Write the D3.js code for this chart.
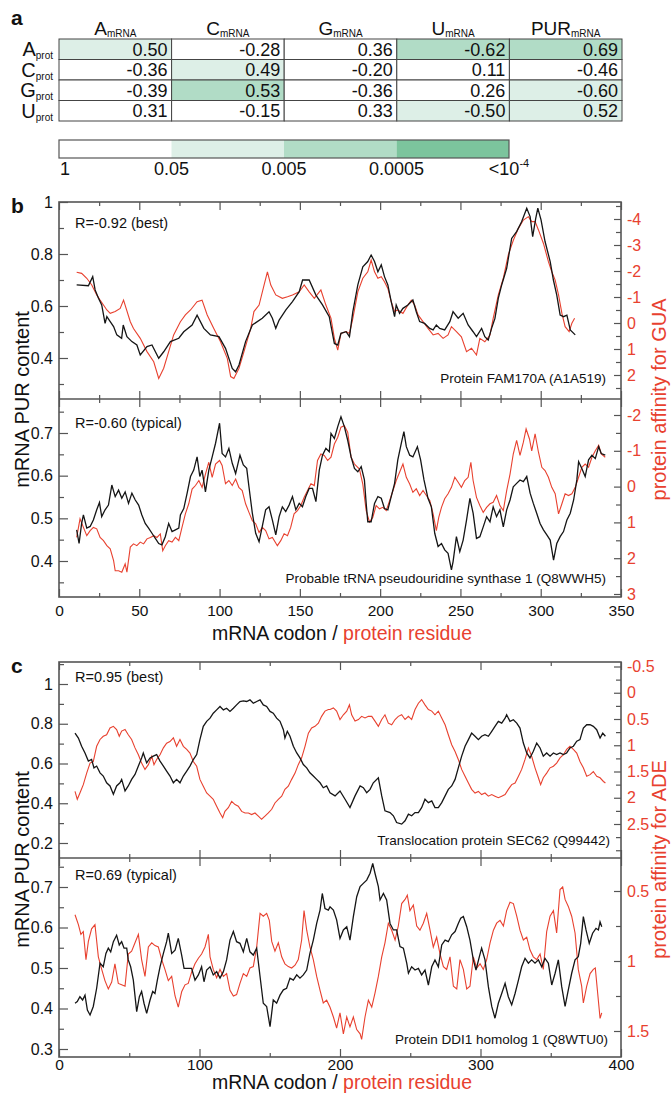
<!DOCTYPE html>
<meta charset="utf-8">
<script src="https://d3js.org/d3.v7.min.js"></script>
<style>
  body { margin:0; background:#fff; }
  svg text { font-family: "Liberation Sans", Arial, sans-serif; fill:#111; }
  .tick line { stroke:#555; stroke-width:1.2px; }
  .lax text, .bax text { font-size:16px; }
  .bax text { font-size:15.5px; }
  .rax text { fill:#e8412f; font-size:16px; }
  .frame { fill:none; stroke:#555; stroke-width:1.6px; }
  .pur { fill:none; stroke:#151515; stroke-width:1.3px; }
  .aff { fill:none; stroke:#e8412f; stroke-width:1.1px; }
</style>
<body></body>
<script>

// ---- panel a data
var colNames = ["A", "C", "G", "U", "PUR"];
var rowNames = ["A", "C", "G", "U"];
var corrValues = [
  [0.50, -0.28, 0.36, -0.62, 0.69],
  [-0.36, 0.49, -0.20, 0.11, -0.46],
  [-0.39, 0.53, -0.36, 0.26, -0.60],
  [0.31, -0.15, 0.33, -0.50, 0.52]
];
var sigLevel = [
  [1, 0, 0, 2, 2],
  [0, 1, 0, 0, 0],
  [0, 2, 0, 0, 1],
  [0, 0, 0, 1, 1]
];
var sigLabels = ["1", "0.05", "0.005", "0.0005", "<10"];
var sigColors = ["#ffffff", "#ddefe7", "#b1dcc6", "#7cc49d"];

// ---- panel b (GUA) : [codon, value]
var bTopPur = [[11,0.681],[18.3,0.678],[21,0.713],[22.5,0.662],[24.6,0.630],[26.6,0.604],[28.7,0.533],[29.8,0.559],[31.9,0.540],[34,0.521],[36,0.489],[39,0.476],[40,0.527],[42.3,0.482],[45.4,0.463],[48.5,0.450],[50.6,0.412],[54.8,0.444],[57.9,0.450],[62.1,0.399],[65.2,0.424],[69.4,0.463],[74.6,0.476],[77.7,0.501],[82.9,0.527],[86,0.565],[90.2,0.514],[94.3,0.489],[99.6,0.482],[103.7,0.437],[107.9,0.360],[110,0.347],[112.1,0.373],[116.2,0.463],[120.4,0.527],[126.6,0.553],[130.8,0.578],[132.9,0.553],[135,0.514],[137.1,0.546],[141.3,0.585],[145.4,0.617],[149.6,0.655],[151.7,0.700],[155.8,0.700],[160,0.642],[164.1,0.604],[168.3,0.559],[171.5,0.456],[173.6,0.450],[175.6,0.495],[178.8,0.501],[180.9,0.482],[183,0.578],[186.1,0.681],[189.2,0.751],[192.3,0.771],[194.4,0.796],[196.5,0.771],[198.6,0.732],[200.7,0.758],[202.7,0.713],[204.8,0.681],[206.9,0.617],[209,0.559],[210,0.604],[212.1,0.572],[214.2,0.591],[217.3,0.604],[220.4,0.623],[222.5,0.578],[224.6,0.540],[227.7,0.533],[230.9,0.514],[233,0.508],[235,0.527],[237.1,0.514],[240.2,0.508],[243.4,0.540],[245.4,0.578],[248.6,0.553],[251.7,0.572],[254.8,0.527],[257.9,0.501],[260,0.482],[263.2,0.514],[265.2,0.482],[267.3,0.469],[269.4,0.514],[271.5,0.553],[273.6,0.630],[275.7,0.681],[278.8,0.745],[281.9,0.860],[285,0.886],[288.1,0.924],[291.3,0.976],[293.4,0.944],[295,0.867],[296.9,0.937],[298.2,0.976],[300.2,0.931],[302.7,0.848],[305.9,0.771],[307.9,0.700],[310,0.642],[312.1,0.565],[314.2,0.559],[316.3,0.565],[318.4,0.508],[321.5,0.489]];
var bTopAff = [[11,-1.95],[14.1,-1.91],[17.3,-1.72],[20.4,-1.46],[23.5,-1.08],[25.6,-0.88],[27.7,-0.69],[29.8,-0.50],[31.9,-0.37],[35,-0.44],[38.1,-0.56],[40.2,-0.88],[44.4,-0.05],[46.4,0.21],[50.6,0.59],[54.8,1.10],[59,1.49],[62.1,2.13],[65.2,1.74],[68.3,1.10],[71.4,0.46],[75.6,-0.05],[78.7,-0.31],[81.9,-0.50],[86,-0.82],[89.1,-0.88],[92.3,-0.31],[96.4,0.21],[100.6,0.72],[104.8,1.36],[106.9,2.06],[108.9,2.13],[112.1,1.74],[115.2,1.10],[119.4,0.21],[121.4,-0.44],[124.6,-0.69],[127.7,-1.46],[129.8,-1.97],[131.9,-1.46],[135,-1.08],[139.1,-0.95],[142.3,-1.01],[145.4,-1.08],[149.6,-1.20],[152.7,-1.46],[155.8,-1.20],[159,-0.95],[163.1,-1.27],[166.2,-0.69],[169.4,-0.18],[171.5,0.59],[173.6,1.04],[175.6,0.40],[178.8,0.33],[180.9,0.40],[183,-0.18],[186.1,-1.20],[189.2,-1.72],[192.3,-1.97],[194.4,-2.42],[196.5,-1.97],[198.6,-1.72],[200.7,-1.78],[202.7,-1.59],[204.8,-1.33],[206.9,-0.82],[209,-0.44],[211,-0.50],[214.2,-0.37],[217.3,-0.69],[219.4,-0.88],[221.5,-0.69],[223.6,-0.31],[226.7,-0.05],[229.8,0.21],[233,0.46],[236.1,0.40],[239.2,0.59],[242.3,0.46],[244.4,0.14],[247.5,0.33],[250.6,0.53],[253.8,1.10],[256.9,0.97],[260,1.23],[262.1,0.59],[265.2,0.72],[268.4,0.46],[270.4,-0.18],[273.6,-1.08],[276.7,-1.72],[279.8,-2.62],[283,-3.19],[286.1,-3.64],[289.2,-3.96],[292.3,-4.09],[294.4,-3.90],[296.5,-3.90],[298.6,-3.58],[301.7,-3.06],[304.8,-2.36],[306.9,-1.97],[309,-1.65],[311.1,-1.08],[313.2,-0.37],[315.2,0.14],[317.7,0.33],[319.4,0.01],[321.1,-0.18]];
var bBotPur = [[11,0.473],[12.5,0.441],[14.1,0.488],[15.2,0.508],[17.3,0.477],[19.4,0.481],[21.4,0.496],[23.5,0.520],[25.2,0.537],[26.6,0.504],[28.7,0.520],[30.8,0.531],[32.9,0.578],[35,0.551],[37.1,0.566],[39.1,0.547],[41.2,0.562],[43.3,0.535],[45.4,0.559],[47.5,0.543],[49.6,0.531],[51.6,0.508],[53.7,0.488],[55.8,0.477],[57.9,0.465],[60,0.453],[62.1,0.441],[64.1,0.438],[66.2,0.457],[68.3,0.488],[70.4,0.469],[72.5,0.473],[74.6,0.477],[75.6,0.508],[77.7,0.523],[79.8,0.559],[81.9,0.598],[83.9,0.613],[86,0.644],[87.7,0.598],[89.1,0.613],[91.2,0.562],[93.3,0.613],[95.4,0.644],[97.5,0.676],[100,0.723],[101.6,0.652],[103.7,0.644],[105.8,0.664],[107.9,0.629],[110,0.605],[112.7,0.648],[114.8,0.625],[116.9,0.617],[118.3,0.574],[120.4,0.512],[122.5,0.465],[124.6,0.445],[126.6,0.481],[128.7,0.520],[130.8,0.527],[132.9,0.496],[135,0.461],[137.1,0.504],[139.1,0.527],[141.2,0.516],[143.3,0.531],[145.4,0.551],[147.5,0.520],[149.6,0.535],[151.6,0.527],[153.7,0.551],[155.8,0.570],[157.9,0.570],[160,0.539],[162.1,0.613],[164.1,0.648],[166.2,0.664],[168.3,0.656],[169.4,0.699],[171.5,0.687],[173.6,0.715],[175.6,0.738],[177.7,0.715],[179.8,0.683],[181.9,0.644],[184,0.617],[186.1,0.609],[188.2,0.621],[190.2,0.590],[191.3,0.535],[192.3,0.492],[194.4,0.492],[196.5,0.535],[198.6,0.551],[200.7,0.547],[202.7,0.523],[204.8,0.520],[206.9,0.551],[209,0.582],[211,0.637],[213.2,0.676],[214.8,0.703],[216.3,0.668],[218.4,0.648],[220.4,0.644],[223.2,0.668],[225.2,0.637],[227.3,0.590],[229.8,0.547],[231.9,0.527],[234,0.465],[236.1,0.434],[238.2,0.441],[240.2,0.426],[242.3,0.418],[244.4,0.379],[245.4,0.398],[247.5,0.457],[249.6,0.422],[251.7,0.449],[253.8,0.496],[255.9,0.547],[257.9,0.512],[260,0.453],[262.1,0.457],[264.2,0.480],[266.3,0.504],[268.4,0.492],[270.4,0.527],[272.5,0.504],[274.6,0.520],[276.7,0.480],[278.8,0.520],[280.9,0.543],[282.9,0.574],[285,0.582],[287.1,0.590],[289.2,0.586],[291.3,0.598],[293.4,0.559],[295.4,0.535],[297.5,0.512],[299.6,0.488],[301.7,0.473],[303.8,0.461],[305.9,0.449],[308,0.402],[310,0.441],[312.1,0.457],[314.2,0.469],[316.3,0.496],[318.4,0.512],[320.5,0.543],[322.5,0.590],[323.6,0.633],[325.6,0.617],[327.7,0.598],[329.8,0.637],[331.9,0.648],[334,0.640],[336.1,0.668],[337.7,0.652],[340.2,0.648]];
var bBotAff = [[11,1.42],[13.1,0.90],[15.2,1.14],[17.3,1.37],[19.4,1.23],[21.4,1.14],[23.5,1.18],[25.6,1.42],[27.7,1.51],[29.8,1.65],[31.9,1.74],[34,2.07],[35,2.35],[37.1,2.35],[39.1,2.39],[41.2,2.16],[42.3,2.39],[44.4,1.69],[46.4,1.60],[48.5,1.65],[50.6,1.55],[52.7,1.60],[54.8,1.46],[56.9,1.42],[59,1.37],[61,1.42],[63.1,1.32],[64.6,1.79],[66.2,1.65],[68.3,1.51],[70.4,1.55],[72.5,1.42],[74.6,1.51],[76.6,1.14],[78.7,0.76],[80.8,0.48],[82.9,0.07],[85,-0.03],[87.1,-0.17],[89.1,0.02],[91.2,-0.35],[93.3,-0.68],[95.4,-0.26],[97.5,-0.63],[100,-0.73],[101.6,-0.59],[103.7,-0.08],[105.8,-0.17],[107.9,-0.03],[110,-0.21],[112,0.02],[114.1,0.11],[116.2,0.48],[118.3,0.72],[120.4,0.95],[122.5,1.04],[124.6,1.28],[126.6,1.14],[128.7,1.23],[130.8,1.46],[132.9,1.42],[136,1.65],[138.1,1.51],[140.2,1.32],[142.3,1.37],[144.3,1.14],[146.4,0.76],[148.5,0.67],[150.6,0.53],[152.7,0.30],[154.8,0.11],[156.9,-0.08],[159,-0.03],[161,-0.73],[163.1,-0.91],[165.2,-0.87],[167.3,-0.73],[169.4,-0.82],[171.5,-1.19],[173.6,-1.38],[175.6,-1.66],[177.7,-1.70],[179.8,-1.52],[181.9,-0.82],[184,-0.63],[187.1,-0.49],[189.2,-0.07],[191.3,0.67],[193.4,0.99],[195.4,0.86],[197.5,0.53],[199.6,0.62],[201.7,0.58],[203.8,0.67],[205.9,0.39],[208,0.11],[210,-0.17],[212.1,-0.40],[214.2,-0.63],[216.3,-0.26],[218.4,-0.07],[220.4,0.16],[222.5,0.06],[224.6,0.25],[226.7,0.11],[228.8,0.25],[230.9,0.39],[233,0.76],[235,1.23],[236.5,0.86],[238.2,0.58],[240.2,0.34],[242.3,0.20],[244.4,0.02],[246.5,-0.26],[248.6,-0.12],[250.6,0.02],[252.7,-0.17],[254.8,-0.26],[256.5,-0.68],[257.9,-0.17],[260,0.30],[262.1,0.53],[264.2,0.72],[266.3,0.58],[268.4,0.48],[270.4,0.44],[272.5,0.25],[274.6,0.53],[276.7,0.67],[278.8,0.11],[280.9,-0.35],[282.9,-0.91],[285,-1.29],[287.1,-0.87],[289.2,-1.24],[290.9,-1.61],[293,-1.33],[294.4,-1.00],[296.5,-1.47],[298.6,-0.96],[300.7,-0.54],[302.7,-0.45],[304.8,-0.26],[306.9,0.02],[309,0.20],[311.1,0.76],[313.2,0.48],[315.2,0.20],[317.3,0.25],[319.4,0.20],[321.5,0.02],[323.6,-0.26],[325.6,-0.54],[327.7,-0.63],[329.8,-0.54],[331.9,-0.82],[334,-1.00],[336.1,-1.15],[337.7,-0.91],[340.2,-0.82]];

// ---- panel c (ADE)
var cTopPur = [[11.4,0.753],[13.8,0.728],[16.1,0.687],[18.5,0.653],[20.9,0.612],[23.2,0.620],[24.9,0.578],[26.8,0.587],[29.2,0.553],[31.5,0.537],[33.9,0.503],[36.3,0.487],[38.7,0.445],[41,0.487],[43.4,0.503],[44.6,0.520],[47,0.462],[49.3,0.487],[51.7,0.520],[54.1,0.545],[56.5,0.587],[58.8,0.628],[60,0.653],[62.4,0.603],[64.8,0.628],[67.1,0.637],[69.5,0.645],[71.9,0.612],[74.3,0.587],[76.6,0.562],[79,0.537],[81.4,0.503],[83.7,0.520],[86.1,0.503],[88.5,0.537],[90.9,0.562],[93.2,0.587],[95.6,0.620],[98,0.645],[100.3,0.720],[102.7,0.787],[105.1,0.812],[107.5,0.828],[109.8,0.853],[112.2,0.870],[114.6,0.887],[117,0.870],[119.3,0.878],[121.7,0.862],[124.1,0.878],[126.4,0.895],[128.8,0.912],[131.2,0.915],[133.6,0.912],[135.9,0.920],[138.3,0.903],[140.7,0.912],[143.1,0.920],[145.4,0.895],[147.8,0.887],[150.2,0.862],[152.5,0.853],[154.9,0.828],[157.3,0.812],[159.7,0.770],[160.8,0.728],[162.5,0.762],[164.4,0.737],[166.8,0.687],[169.2,0.653],[171.5,0.628],[173.9,0.595],[176.3,0.578],[178.6,0.553],[181,0.537],[183.4,0.520],[185.8,0.503],[188.1,0.478],[190.5,0.487],[192.9,0.453],[196.5,0.437],[200,0.462],[203.6,0.420],[207.1,0.378],[210.7,0.437],[214.3,0.487],[216.6,0.478],[219,0.453],[221.4,0.470],[223.7,0.503],[227.3,0.528],[229.7,0.437],[232,0.362],[235.6,0.353],[238,0.337],[240.3,0.303],[243.9,0.295],[246.3,0.312],[248.7,0.345],[251,0.337],[253.4,0.353],[255.8,0.353],[258.1,0.378],[260.5,0.420],[262.9,0.403],[265.3,0.412],[267.6,0.378],[270,0.378],[272.4,0.403],[274.8,0.437],[277.1,0.470],[279.5,0.487],[281.9,0.520],[284.2,0.578],[286.6,0.637],[289,0.687],[291.4,0.720],[293.7,0.753],[296.1,0.737],[298.5,0.720],[300.8,0.737],[303.2,0.745],[305.6,0.737],[308,0.762],[310.3,0.787],[312.7,0.812],[315.1,0.803],[317.5,0.828],[318.6,0.845],[321,0.812],[323.4,0.820],[325.8,0.803],[328.1,0.778],[330.5,0.703],[332.9,0.653],[335.2,0.628],[337.6,0.662],[340,0.703],[342.4,0.678],[344.7,0.637],[347.1,0.653],[349.5,0.637],[351.9,0.653],[354.2,0.645],[356.6,0.653],[359,0.645],[361.3,0.653],[363.7,0.678],[366.1,0.687],[368.5,0.712],[370.8,0.720],[373.2,0.778],[375.6,0.795],[378,0.795],[380.3,0.787],[382.7,0.770],[385.1,0.728],[387,0.753],[388.9,0.737]];
var cTopAff = [[11.4,1.88],[13,2.03],[14.9,1.91],[17.3,1.75],[19.7,1.53],[22.1,1.34],[24.4,1.31],[26.8,1.02],[29.2,0.89],[31.5,0.83],[33.9,0.80],[36.3,0.67],[38.7,0.64],[41,0.70],[42.9,0.83],[44.6,0.73],[47,0.70],[49.3,0.80],[51.7,0.89],[54.1,1.05],[56.5,1.18],[58.8,1.34],[61.2,1.46],[63.6,1.37],[66,1.21],[67.6,1.37],[69.5,1.27],[71.9,1.18],[74.3,1.05],[76.6,0.96],[79,0.93],[81.4,0.86],[83.7,1.02],[86.1,0.89],[88.5,1.02],[90.9,1.08],[93.2,1.15],[95.6,1.31],[98,1.40],[100.3,1.65],[102.7,1.78],[105.1,1.91],[107.5,1.97],[109.8,2.03],[112.2,2.16],[114.6,2.29],[116.5,2.38],[118.1,2.26],[120.5,2.19],[122.9,2.07],[125.3,2.13],[127.6,2.16],[130,2.26],[132.4,2.29],[134.8,2.29],[137.1,2.32],[139.5,2.29],[141.9,2.35],[144.2,2.41],[146.6,2.35],[149,2.29],[151.4,2.22],[153.7,2.10],[156.1,2.03],[158.5,1.97],[160.8,1.84],[163.2,1.78],[165.6,1.65],[168,1.53],[170.3,1.37],[172.7,1.24],[175.1,1.02],[177.5,0.77],[179.8,0.67],[182.2,0.64],[184.6,0.58],[186.9,0.45],[189.3,0.35],[191.7,0.32],[192.9,0.32],[195.3,0.29],[197.6,0.35],[200,0.51],[202.4,0.42],[204.8,0.35],[206.7,0.23],[208.3,0.42],[210.7,0.54],[213.1,0.51],[215.4,0.45],[217.8,0.48],[220.2,0.45],[222.6,0.45],[224.9,0.54],[227.3,0.64],[229.7,0.51],[232,0.42],[234.4,0.58],[236.8,0.61],[239.2,0.51],[241.5,0.45],[243.9,0.42],[246.3,0.51],[248.7,0.45],[251,0.51],[253.4,0.32],[255.8,0.20],[258.1,0.13],[260.5,0.23],[262.9,0.32],[265.3,0.35],[267.6,0.42],[270,0.35],[272.4,0.48],[274.8,0.61],[277.1,0.80],[279.5,0.99],[281.9,1.12],[284.2,1.27],[286.6,1.46],[289,1.59],[291.4,1.72],[293.7,1.84],[296.1,1.91],[298.5,1.88],[300.8,1.94],[303.2,1.91],[305.6,1.97],[308,1.94],[310.3,1.97],[312.7,2.00],[315.1,1.97],[317.5,1.94],[319.8,1.84],[322.2,1.75],[324.6,1.72],[327,1.59],[329.3,1.46],[331.7,1.27],[334.1,1.05],[336.4,1.21],[338.8,1.43],[341.2,1.62],[342.8,1.75],[344.7,1.62],[347.1,1.53],[349.5,1.43],[351.9,1.40],[354.2,1.34],[356.6,1.24],[359,1.18],[361.3,1.08],[363.7,1.02],[366.1,1.08],[368.5,1.15],[370.8,1.31],[373.2,1.43],[375.6,1.59],[378,1.56],[380.3,1.50],[382.7,1.59],[385.1,1.62],[387.5,1.69],[388.9,1.72]];
var cBotPur = [[11.4,0.413],[13,0.417],[14.9,0.429],[16.8,0.421],[18.5,0.433],[20.2,0.396],[22.1,0.384],[24.4,0.405],[26.8,0.450],[29.2,0.512],[31.5,0.503],[33.4,0.536],[35.1,0.549],[36.8,0.540],[38.7,0.565],[41,0.581],[42.9,0.557],[44.6,0.565],[46.3,0.549],[48.2,0.549],[49.3,0.520],[51,0.503],[52.9,0.470],[55.3,0.392],[57.2,0.429],[58.8,0.442],[60.5,0.413],[62.4,0.388],[64.8,0.421],[66.7,0.442],[68.3,0.437],[70,0.470],[71.9,0.503],[74.3,0.536],[76.6,0.565],[77.8,0.586],[80.2,0.536],[82.6,0.544],[84.9,0.573],[87.3,0.532],[89,0.499],[92,0.499],[94.4,0.499],[96.8,0.470],[99.2,0.483],[101.5,0.503],[103.2,0.466],[105.1,0.495],[107.5,0.503],[109.8,0.483],[112.2,0.491],[114.6,0.475],[117,0.491],[119.3,0.520],[121.7,0.569],[124.1,0.590],[126.4,0.565],[128.8,0.561],[131.2,0.540],[133.6,0.573],[135.9,0.540],[138.3,0.532],[140.7,0.549],[143.1,0.479],[145.4,0.413],[147.8,0.405],[150.2,0.355],[152.5,0.421],[154.9,0.413],[157.3,0.433],[159.7,0.446],[162,0.450],[164.4,0.475],[166.8,0.470],[169.2,0.483],[171.5,0.475],[173.9,0.483],[176.3,0.495],[178.6,0.536],[181,0.569],[183.4,0.610],[185.8,0.643],[187.4,0.684],[189.3,0.647],[191.7,0.643],[192.9,0.651],[195.3,0.643],[197.6,0.619],[200,0.573],[202.4,0.594],[204.8,0.602],[207.1,0.569],[209.5,0.627],[211.9,0.676],[214.3,0.701],[216.6,0.709],[219,0.717],[221.4,0.734],[223.3,0.758],[224.9,0.734],[227.3,0.701],[228.5,0.668],[230.9,0.684],[233.2,0.668],[235.6,0.610],[238,0.594],[240.3,0.594],[242.7,0.553],[245.1,0.549],[247.5,0.512],[248.7,0.487],[251,0.503],[253.4,0.495],[255.8,0.499],[258.1,0.483],[260.5,0.495],[262.9,0.458],[265.3,0.503],[267.6,0.520],[270,0.503],[272.4,0.557],[274.8,0.569],[277.1,0.565],[279.5,0.582],[281.9,0.590],[284.2,0.610],[285.9,0.623],[287.8,0.627],[290.2,0.602],[292.5,0.569],[294.9,0.520],[296.8,0.495],[299.2,0.528],[300.8,0.549],[303.2,0.520],[305.6,0.454],[308,0.405],[310.3,0.376],[312.7,0.413],[315.1,0.437],[317.5,0.462],[319.8,0.429],[322.2,0.409],[324.6,0.437],[327,0.470],[329.3,0.503],[331.7,0.524],[334.1,0.512],[336.4,0.520],[338.8,0.512],[341.2,0.520],[343.6,0.503],[345.9,0.524],[348.3,0.512],[350.7,0.458],[353.1,0.487],[355.4,0.520],[357.8,0.454],[360.2,0.405],[362.5,0.446],[364.9,0.487],[367.3,0.520],[369.6,0.528],[371.3,0.561],[373.2,0.627],[375.1,0.594],[377.4,0.561],[379.8,0.586],[382.2,0.598],[383.9,0.594],[385.1,0.614],[386.3,0.602]];
var cBotAff = [[11.4,0.67],[13.8,0.74],[15.6,0.81],[17.3,0.79],[19.2,0.99],[20.9,0.86],[23.2,0.77],[25.6,0.74],[28,0.97],[30.4,1.06],[32.7,1.14],[35.1,1.20],[37.5,1.15],[39.8,1.02],[42.2,1.16],[44.6,1.17],[47,1.18],[49.3,0.95],[51.7,0.93],[54.1,0.87],[56.5,0.81],[58.8,0.99],[61.2,1.11],[63.6,0.90],[66,0.87],[68.3,0.89],[70.7,0.90],[73.1,0.99],[75.4,1.06],[77.8,1.14],[80.2,1.11],[82.6,1.25],[84.9,1.33],[87.3,1.22],[89.7,1.17],[92,1.16],[94.4,1.08],[96.8,1.02],[99.2,0.98],[101.5,0.95],[103.9,0.90],[106.3,0.81],[107.5,0.97],[109.8,1.06],[112.2,1.12],[114.6,1.06],[117,1.11],[119.3,1.09],[121.7,1.21],[124.1,1.25],[126.4,1.24],[128.8,1.16],[131.2,1.09],[133.6,1.11],[135.9,1.05],[138.3,1.04],[140.7,0.90],[143.1,0.66],[145.4,0.68],[147.8,0.66],[149.7,0.71],[151.4,0.86],[153.7,0.93],[156.1,0.87],[158.5,0.97],[160.8,1.02],[163.2,1.04],[165.6,1.05],[168,1.03],[170.3,0.99],[172.7,0.85],[174.4,0.64],[176.3,0.78],[178.6,0.90],[181,0.99],[183.4,1.11],[185.8,1.21],[188.1,1.30],[190.5,1.28],[192.9,1.33],[195.3,1.40],[197.6,1.48],[200,1.37],[202.4,1.52],[204.8,1.40],[207.1,1.47],[209.5,1.40],[211.9,1.49],[214.3,1.52],[215.4,1.56],[217.8,1.40],[220.2,1.28],[222.6,1.33],[224.9,1.23],[227.3,1.11],[229.7,0.97],[232,0.87],[234.4,0.73],[236.8,0.78],[239.2,0.85],[241.5,0.75],[243.9,0.59],[246.3,0.56],[247.9,0.53],[249.8,0.64],[252.2,0.60],[254.6,0.75],[256.9,0.78],[259.3,0.73],[261.7,0.66],[264.1,0.78],[266.4,0.90],[268.8,0.83],[271.2,0.95],[273.6,1.04],[275.9,1.06],[278.3,0.97],[280.7,1.18],[283.1,1.20],[285.4,0.99],[287.8,1.06],[290.2,1.20],[292.5,1.18],[294.9,0.97],[297.3,1.05],[299.7,1.02],[302,1.06],[304.4,0.99],[306.8,0.87],[309.2,0.78],[311.5,0.73],[313.9,0.71],[316.3,0.75],[318.6,0.64],[321,0.58],[323.4,0.59],[325.8,0.68],[328.1,0.78],[330.5,0.85],[332.9,0.83],[335.2,0.92],[337.6,0.97],[340,0.99],[342.4,0.95],[344.7,1.06],[347.1,0.79],[349.5,0.68],[351.9,0.64],[354.2,0.80],[356.6,0.49],[358.5,0.47],[360.2,0.56],[362.5,0.61],[364.9,0.68],[367.3,0.80],[369.6,1.06],[372,1.18],[373.2,1.30],[375.6,1.18],[378,1.09],[380.3,1.06],[381.7,1.05],[383.4,1.23],[385.1,1.41],[386.3,1.37]];

var RED = "#e8412f";
var fmt = function(d) { return String(d); };

var svg = d3.select("body").append("svg")
    .attr("width", 671)
    .attr("height", 1094);

// panel letters
[["a", 25], ["b", 213], ["c", 673]].forEach(function(p) {
  svg.append("text").attr("x", 11).attr("y", p[1])
    .style("font-size", "21px").style("font-weight", "bold").text(p[0]);
});

// ================= panel a : table =================
var xCol = d3.scaleBand().domain(colNames).range([59, 622]);
var yRow = d3.scaleBand().domain(rowNames).range([39, 121]);

var cells = [];
rowNames.forEach(function(r, i) {
  colNames.forEach(function(c, j) {
    cells.push({r: r, c: c, v: corrValues[i][j], s: sigLevel[i][j]});
  });
});

var tbl = svg.append("g");
tbl.selectAll("rect").data(cells).enter().append("rect")
  .attr("x", function(d) { return xCol(d.c); })
  .attr("y", function(d) { return yRow(d.r); })
  .attr("width", xCol.bandwidth())
  .attr("height", yRow.bandwidth())
  .attr("fill", function(d) { return sigColors[d.s]; })
  .attr("stroke", "#444").attr("stroke-width", 1);

tbl.selectAll("text.val").data(cells).enter().append("text")
  .attr("class", "val")
  .attr("x", function(d) { return xCol(d.c) + xCol.bandwidth() - 4; })
  .attr("y", function(d) { return yRow(d.r) + yRow.bandwidth() / 2 + 6.5; })
  .attr("text-anchor", "end")
  .style("font-size", "18px")
  .text(function(d) { return d.v.toFixed(2); });

// column headers
var hdr = tbl.selectAll("text.hdr").data(colNames).enter().append("text")
  .attr("class", "hdr")
  .attr("x", function(d) { return xCol(d) + xCol.bandwidth() / 2; })
  .attr("y", 35)
  .attr("text-anchor", "middle");
hdr.append("tspan").style("font-size", "19px").text(function(d) { return d; });
hdr.append("tspan").style("font-size", "10px").attr("dy", 2).text("mRNA");

// row headers
var rh = tbl.selectAll("text.rh").data(rowNames).enter().append("text")
  .attr("class", "rh")
  .attr("x", 53)
  .attr("y", function(d) { return yRow(d) + yRow.bandwidth() / 2 + 7; })
  .attr("text-anchor", "end");
rh.append("tspan").style("font-size", "20px").text(function(d) { return d; });
rh.append("tspan").style("font-size", "10px").attr("dy", 3).text("prot");

// colour bar
var cbX = d3.scaleLinear().domain([0, 4]).range([59, 509]);
var cb = svg.append("g");
cb.selectAll("rect").data(sigColors).enter().append("rect")
  .attr("x", function(d, i) { return cbX(i); })
  .attr("y", 140)
  .attr("width", function(d, i) { return cbX(i + 1) - cbX(i); })
  .attr("height", 18)
  .attr("fill", function(d) { return d; });
cb.append("rect").attr("x", cbX(0)).attr("y", 140)
  .attr("width", cbX(4) - cbX(0)).attr("height", 18)
  .attr("fill", "none").attr("stroke", "#555").attr("stroke-width", 1.2);
var cbl = cb.selectAll("text").data(sigLabels).enter().append("text")
  .attr("x", function(d, i) { return i == 0 ? cbX(i) + 1 : cbX(i); })
  .attr("y", 175)
  .attr("text-anchor", function(d, i) { return i == 0 ? "start" : "middle"; })
  .style("font-size", "18px")
  .text(function(d) { return d; });
cbl.filter(function(d, i) { return i == 4; })
  .append("tspan").attr("dy", -8).style("font-size", "11px").text("-4");

// ================= panels b and c =================
var xB = d3.scaleLinear().domain([0, 350]).range([59, 621]);
var xC = d3.scaleLinear().domain([0, 400]).range([59, 621]);

var panels = [
  {x: xB, top: 202, mid: 399, bottom: 597, xMajor: [0,50,100,150,200,250,300,350], xMinor: [25,75,125,175,225,275,325],
   tickPad: 8, titleY: 640, rLabel: "protein affinity for GUA",
   plots: [
    {y0: 202, y1: 399, yL: d3.scaleLinear().domain([0.4, 1]).range([358, 202]), lMajor: [0.4,0.6,0.8,1], lMinor: [0.3,0.5,0.7,0.9],
     yR: d3.scaleLinear().domain([-4, 2]).range([219, 375]), rMajor: [-4,-3,-2,-1,0,1,2], rMinor: [-4.5,-3.5,-2.5,-1.5,-0.5,0.5,1.5,2.5],
     pur: bTopPur, aff: bTopAff, note: "R=-0.92 (best)", noteY: 228, name: "Protein FAM170A (A1A519)", nameX: 606, nameY: 383},
    {y0: 399, y1: 597, yL: d3.scaleLinear().domain([0.4, 0.7]).range([561, 433]), lMajor: [0.4,0.5,0.6,0.7], lMinor: [0.35,0.45,0.55,0.65,0.75],
     yR: d3.scaleLinear().domain([-2, 3]).range([415, 594]), rMajor: [-2,-1,0,1,2,3], rMinor: [-1.5,-0.5,0.5,1.5,2.5],
     pur: bBotPur, aff: bBotAff, note: "R=-0.60 (typical)", noteY: 428, name: "Probable tRNA pseudouridine synthase 1 (Q8WWH5)", nameX: 606, nameY: 583}
   ]},
  {x: xC, top: 662, mid: 858, bottom: 1057, xMajor: [0,100,200,300,400], xMinor: [50,150,250,350],
   tickPad: 2, titleY: 1089, rLabel: "protein affinity for ADE",
   plots: [
    {y0: 662, y1: 858, yL: d3.scaleLinear().domain([0.2, 1]).range([843, 684]), lMajor: [0.2,0.4,0.6,0.8,1], lMinor: [0.3,0.5,0.7,0.9,1.1],
     yR: d3.scaleLinear().domain([-0.5, 2.5]).range([666.5, 824]), rMajor: [-0.5,0,0.5,1,1.5,2,2.5], rMinor: [-0.25,0.25,0.75,1.25,1.75,2.25,2.75,3],
     pur: cTopPur, aff: cTopAff, note: "R=0.95 (best)", noteY: 682, name: "Translocation protein SEC62 (Q99442)", nameX: 610, nameY: 845},
    {y0: 858, y1: 1057, yL: d3.scaleLinear().domain([0.3, 0.7]).range([1049, 887]), lMajor: [0.3,0.4,0.5,0.6,0.7], lMinor: [0.35,0.45,0.55,0.65,0.75],
     yR: d3.scaleLinear().domain([0.5, 1.5]).range([891, 1031]), rMajor: [0.5,1,1.5], rMinor: [0.75,1.25],
     pur: cBotPur, aff: cBotAff, note: "R=0.69 (typical)", noteY: 880, name: "Protein DDI1 homolog 1 (Q8WTU0)", nameX: 608, nameY: 1044}
   ]}
];

function noDomain(g) { g.select(".domain").remove(); }

panels.forEach(function(P, pi) {
  var x = P.x;
  var g = svg.append("g");

  P.plots.forEach(function(p, k) {
    var id = "clip" + pi + k;
    g.append("clipPath").attr("id", id).append("rect")
      .attr("x", x.range()[0]).attr("y", p.y0)
      .attr("width", x.range()[1] - x.range()[0]).attr("height", p.y1 - p.y0);

    // left axis
    g.append("g").attr("class", "lax").attr("transform", "translate(" + x.range()[0] + ",0)")
      .call(d3.axisLeft(p.yL).tickValues(p.lMajor).tickSize(-9).tickPadding(6).tickFormat(fmt)).call(noDomain);
    g.append("g").attr("transform", "translate(" + x.range()[0] + ",0)")
      .call(d3.axisLeft(p.yL).tickValues(p.lMinor).tickSize(-5).tickFormat("")).call(noDomain);

    // right axis
    g.append("g").attr("class", "rax").attr("transform", "translate(" + x.range()[1] + ",0)")
      .call(d3.axisRight(p.yR).tickValues(p.rMajor).tickSize(-7).tickPadding(6).tickFormat(fmt)).call(noDomain);
    g.append("g").attr("transform", "translate(" + x.range()[1] + ",0)")
      .call(d3.axisRight(p.yR).tickValues(p.rMinor).tickSize(-5).tickFormat("")).call(noDomain);

    var lineL = d3.line().x(function(d) { return x(d[0]); }).y(function(d) { return p.yL(d[1]); });
    var lineR = d3.line().x(function(d) { return x(d[0]); }).y(function(d) { return p.yR(d[1]); });

    var lines = g.append("g").attr("clip-path", "url(#" + id + ")");
    lines.append("path").datum(p.aff).attr("class", "aff").attr("d", lineR);
    lines.append("path").datum(p.pur).attr("class", "pur").attr("d", lineL);

    g.append("text").attr("x", 75).attr("y", p.noteY)
      .style("font-size", "14.5px").text(p.note);
    g.append("text").attr("x", p.nameX).attr("y", p.nameY)
      .attr("text-anchor", "end").style("font-size", "13.5px").text(p.name);
  });

  // x ticks: top edge, divider (both sides), bottom
  [[d3.axisTop, P.top], [d3.axisBottom, P.mid], [d3.axisTop, P.mid]].forEach(function(a) {
    g.append("g").attr("transform", "translate(0," + a[1] + ")")
      .call(a[0](x).tickValues(P.xMajor).tickSize(-8).tickFormat("")).call(noDomain);
    g.append("g").attr("transform", "translate(0," + a[1] + ")")
      .call(a[0](x).tickValues(P.xMinor).tickSize(-4).tickFormat("")).call(noDomain);
  });
  g.append("g").attr("class", "bax").attr("transform", "translate(0," + P.bottom + ")")
    .call(d3.axisBottom(x).tickValues(P.xMajor).tickSize(-8).tickPadding(P.tickPad).tickFormat(fmt)).call(noDomain);
  g.append("g").attr("transform", "translate(0," + P.bottom + ")")
    .call(d3.axisBottom(x).tickValues(P.xMinor).tickSize(-4).tickFormat("")).call(noDomain);

  // frames
  g.append("rect").attr("class", "frame")
    .attr("x", x.range()[0]).attr("y", P.top)
    .attr("width", x.range()[1] - x.range()[0]).attr("height", P.bottom - P.top);
  g.append("line").attr("class", "frame")
    .attr("x1", x.range()[0]).attr("x2", x.range()[1]).attr("y1", P.mid).attr("y2", P.mid);

  // axis titles
  var cy = (P.top + P.bottom) / 2;
  g.append("text").attr("transform", "translate(29," + cy + ") rotate(-90)")
    .attr("text-anchor", "middle").style("font-size", "20px").text("mRNA PUR content");
  g.append("text").attr("transform", "translate(666," + cy + ") rotate(-90)")
    .attr("text-anchor", "middle").style("font-size", "20px").style("fill", RED).text(P.rLabel);
  var xl = g.append("text").attr("x", 342).attr("y", P.titleY)
    .attr("text-anchor", "middle").style("font-size", "19.5px").style("white-space", "pre");
  xl.append("tspan").text("mRNA codon / ");
  xl.append("tspan").style("fill", RED).text("protein residue");
});

</script>
